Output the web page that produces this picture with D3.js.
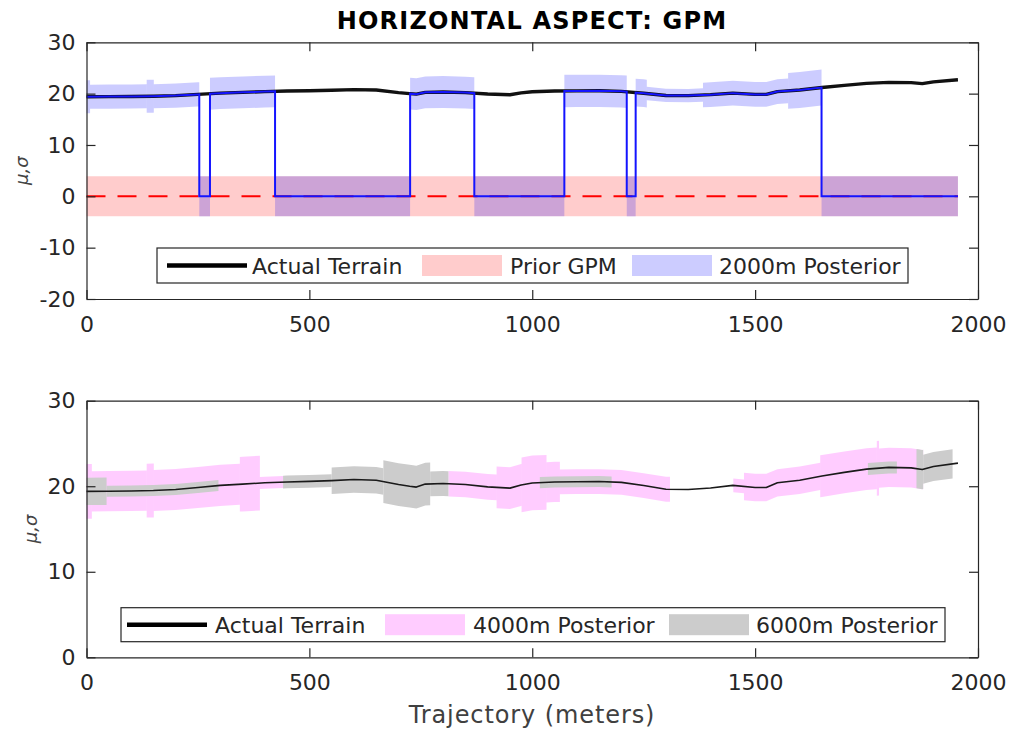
<!DOCTYPE html>
<html>
<head>
<meta charset="utf-8">
<script src="https://cdn.jsdelivr.net/npm/d3@7"></script>
<style>
  html, body { margin: 0; padding: 0; background: #fff; }
  svg { display: block; font-family: "DejaVu Sans", sans-serif; }
</style>
</head>
<body>
<svg id="chart" width="1011" height="730"></svg>
<script>
// Along-track distance (m) and the measured terrain aspect along it
const trajX   = [0, 50, 100, 150, 200, 250, 300, 350, 400, 450, 500, 550, 600, 650, 700, 725, 740, 760, 800, 850,
                 900, 950, 975, 1000, 1050, 1100, 1150, 1200, 1250, 1300, 1350, 1400, 1450, 1500, 1525, 1550, 1600,
                 1650, 1700, 1750, 1800, 1850, 1875, 1900, 1955];
const terrain = [19.4, 19.42, 19.45, 19.5, 19.62, 19.85, 20.1, 20.25, 20.4, 20.5, 20.57, 20.65, 20.78, 20.7, 20.2, 20.0, 19.9, 20.25, 20.32, 20.2,
                 19.92, 19.78, 20.15, 20.38, 20.5, 20.53, 20.55, 20.45, 20.08, 19.65, 19.62, 19.8, 20.1, 19.85, 19.85, 20.4, 20.7,
                 21.2, 21.62, 22.0, 22.2, 22.15, 21.95, 22.3, 22.7];

// Prior GPM: zero mean with constant spread
const priorMean = 0;
const priorSigma = 3.9;

// 2000 m posterior: stretches where the mean locks onto the terrain
const post2000On = [[0, 253], [277, 423], [726, 870], [1072, 1212], [1232, 1649]];
// [start, end, spread] around the terrain while locked
const post2000Sigma = [[0, 8, 3.2], [8, 135, 2.35], [135, 151, 3.2], [151, 253, 2.35], [277, 423, 3.1],
                       [726, 870, 3.1], [1072, 1212, 3.15], [1232, 1257, 2.7], [1257, 1383, 1.3],
                       [1383, 1574, 2.4], [1574, 1649, 3.5]];

// 4000 m and 6000 m posteriors: [start, end, spread] around the terrain
const post4000Sigma = [[0, 12, 3.2], [12, 135, 2.35], [135, 151, 3.15], [151, 344, 2.4], [344, 389, 3.2],
                       [389, 441, 0.7], [812, 920, 1.5], [920, 976, 2.45], [976, 1032, 3.2], [1032, 1062, 2.35],
                       [1062, 1309, 1.45], [1451, 1475, 0.8], [1475, 1646, 1.6], [1646, 1773, 2.45],
                       [1773, 1778, 3.2], [1778, 1877, 2.3]];
const post6000Sigma = [[0, 45, 1.6], [45, 296, 0.65], [441, 550, 0.75], [550, 666, 1.55], [666, 771, 2.5],
                       [771, 812, 1.45], [1017, 1178, 0.65], [1753, 1818, 0.7], [1862, 1877, 2.3],
                       [1877, 1943, 1.7]];

const xTicks = [0, 500, 1000, 1500, 2000];
const yTicksTop = [-20, -10, 0, 10, 20, 30];
const yTicksBottom = [0, 10, 20, 30];

const legendTop = ["Actual Terrain", "Prior GPM", "2000m Posterior"];
const legendBottom = ["Actual Terrain", "4000m Posterior", "6000m Posterior"];

const INK = "#262626";
const svg = d3.select("#chart");
const plain = d => String(d);

const xEnd = trajX[trajX.length - 1];
const terrainAt = d3.scaleLinear().domain(trajX).range(terrain).clamp(true);

function segPoints(a, b) {
  return [a, ...trajX.filter(v => v > a && v < b), b];
}

function makePanel(top, bottom, yDomain, yTicks) {
  const x = d3.scaleLinear().domain([0, 2000]).range([86.5, 978]);
  const y = d3.scaleLinear().domain(yDomain).range([bottom, top]);
  const g = svg.append("g");
  const plot = g.append("g");
  return { x, y, g, plot, top, bottom, yTicks };
}

function drawBands(p, segs, centerFn, color, opacity) {
  segs.forEach(([a, b, s]) => {
    const pts = segPoints(a, b);
    const area = d3.area()
      .x(d => p.x(d))
      .y0(d => p.y(centerFn(d) - s))
      .y1(d => p.y(centerFn(d) + s));
    p.plot.append("path").attr("d", area(pts))
      .attr("fill", color).attr("fill-opacity", opacity).attr("stroke", "none");
  });
}

function drawTerrain(p, width, color) {
  const line = d3.line().x((d, i) => p.x(trajX[i])).y(d => p.y(d));
  p.plot.append("path").attr("d", line(terrain))
    .attr("fill", "none").attr("stroke", color).attr("stroke-width", width)
    .attr("stroke-linejoin", "round");
}

function drawAxes(p) {
  const g = p.g.append("g");
  const left = d3.axisLeft(p.y).tickValues(p.yTicks).tickFormat(plain)
    .tickSize(-9).tickPadding(11).tickSizeOuter(0);
  const right = d3.axisRight(p.y).tickValues(p.yTicks).tickSize(-9).tickFormat("").tickSizeOuter(0);
  const bot = d3.axisBottom(p.x).tickValues(xTicks).tickFormat(plain)
    .tickSize(-9).tickPadding(17).tickSizeOuter(0);
  const topA = d3.axisTop(p.x).tickValues(xTicks).tickSize(-9).tickFormat("").tickSizeOuter(0);
  g.append("g").attr("transform", `translate(${p.x.range()[0]},0)`).call(left);
  g.append("g").attr("transform", `translate(${p.x.range()[1]},0)`).call(right);
  g.append("g").attr("transform", `translate(0,${p.bottom})`).call(bot);
  g.append("g").attr("transform", `translate(0,${p.top})`).call(topA);
  g.selectAll(".domain").attr("stroke", INK).attr("stroke-width", 1.2);
  g.selectAll(".tick line").attr("stroke", INK).attr("stroke-width", 1.2);
  g.selectAll(".tick text").attr("fill", INK).attr("font-size", 22)
    .attr("font-family", "DejaVu Sans, sans-serif");
}

function yLabel(p, cx) {
  const cy = (p.top + p.bottom) / 2;
  p.g.append("text").attr("transform", `translate(${cx},${cy}) rotate(-90)`)
    .attr("text-anchor", "middle").attr("dominant-baseline", "central")
    .attr("font-size", 18).attr("font-style", "italic").attr("fill", "#444")
    .text("\u03BC,\u03C3");
}

function legend(p, box, items) {
  const g = p.g.append("g");
  g.append("rect").attr("x", box.x0).attr("y", box.y0)
    .attr("width", box.x1 - box.x0).attr("height", box.y1 - box.y0)
    .attr("fill", "#fff").attr("stroke", INK).attr("stroke-width", 1.2);
  const cy = (box.y0 + box.y1) / 2;
  items.forEach(it => {
    if (it.type === "line") {
      g.append("line").attr("x1", it.sx).attr("x2", it.sx + 80).attr("y1", cy).attr("y2", cy)
        .attr("stroke", "#000").attr("stroke-width", 4.5);
    } else {
      g.append("rect").attr("x", it.sx).attr("y", cy - 10.5).attr("width", 80).attr("height", 21)
        .attr("fill", it.color).attr("fill-opacity", it.opacity);
    }
    g.append("text").attr("x", it.tx).attr("y", cy + 8).attr("font-size", 22)
      .attr("fill", INK).text(it.label);
  });
}

// ---------- upper panel: prior and 2000 m posterior ----------
const p1 = makePanel(42.3, 299, [-20, 30], yTicksTop);

drawBands(p1, [[0, xEnd, priorSigma]], () => priorMean, "#ff0000", 0.2);

// posterior spread: around the terrain while locked, back to the prior elsewhere
drawBands(p1, post2000Sigma, d => terrainAt(d), "#0000ff", 0.2);
const offSpans = [];
let cursor = 0;
post2000On.forEach(([a, b]) => { if (a > cursor) offSpans.push([cursor, a, priorSigma]); cursor = b; });
if (cursor < xEnd) offSpans.push([cursor, xEnd, priorSigma]);
drawBands(p1, offSpans, () => priorMean, "#0000ff", 0.2);

drawTerrain(p1, 3.4, "#111");

p1.plot.append("line").attr("x1", p1.x(0)).attr("x2", p1.x(xEnd))
  .attr("y1", p1.y(priorMean)).attr("y2", p1.y(priorMean))
  .attr("stroke", "#ff0000").attr("stroke-width", 2).attr("stroke-dasharray", "19,12");

// posterior mean: terrain while locked, zero otherwise
const meanPts = [];
post2000On.forEach(([a, b]) => {
  if (a > 0) meanPts.push([a, priorMean]);
  segPoints(a, b).forEach(v => meanPts.push([v, terrainAt(v)]));
  meanPts.push([b, priorMean]);
});
meanPts.push([xEnd, priorMean]);
p1.plot.append("path")
  .attr("d", d3.line().x(d => p1.x(d[0])).y(d => p1.y(d[1]))(meanPts))
  .attr("fill", "none").attr("stroke", "#1414ff").attr("stroke-width", 2);

drawAxes(p1);
yLabel(p1, 21);
legend(p1, { x0: 157, x1: 908, y0: 248, y1: 283 }, [
  { type: "line", sx: 167, tx: 252, label: legendTop[0] },
  { type: "patch", sx: 422, tx: 510, color: "#ff0000", opacity: 0.2, label: legendTop[1] },
  { type: "patch", sx: 632, tx: 719, color: "#0000ff", opacity: 0.2, label: legendTop[2] }
]);

svg.append("text").attr("x", 532).attr("y", 29).attr("text-anchor", "middle")
  .attr("font-size", 24).attr("font-weight", "bold").attr("letter-spacing", 1.2).attr("fill", "#000")
  .text("HORIZONTAL ASPECT: GPM");

// ---------- lower panel: 4000 m and 6000 m posteriors ----------
const p2 = makePanel(400.7, 657.3, [0, 30], yTicksBottom);
drawBands(p2, post4000Sigma, d => terrainAt(d), "#ff00ff", 0.2);
drawBands(p2, post6000Sigma, d => terrainAt(d), "#cccccc", 1);
drawTerrain(p2, 1.6, "#1a1a1a");
drawAxes(p2);
yLabel(p2, 30);
legend(p2, { x0: 121, x1: 945, y0: 607.7, y1: 641.7 }, [
  { type: "line", sx: 127, tx: 215, label: legendBottom[0] },
  { type: "patch", sx: 385, tx: 473, color: "#ff00ff", opacity: 0.2, label: legendBottom[1] },
  { type: "patch", sx: 669, tx: 756, color: "#cccccc", opacity: 1, label: legendBottom[2] }
]);

svg.append("text").attr("x", 532).attr("y", 723).attr("text-anchor", "middle")
  .attr("font-size", 24).attr("letter-spacing", 0.9).attr("fill", "#404040").text("Trajectory (meters)");
</script>
</body>
</html>
